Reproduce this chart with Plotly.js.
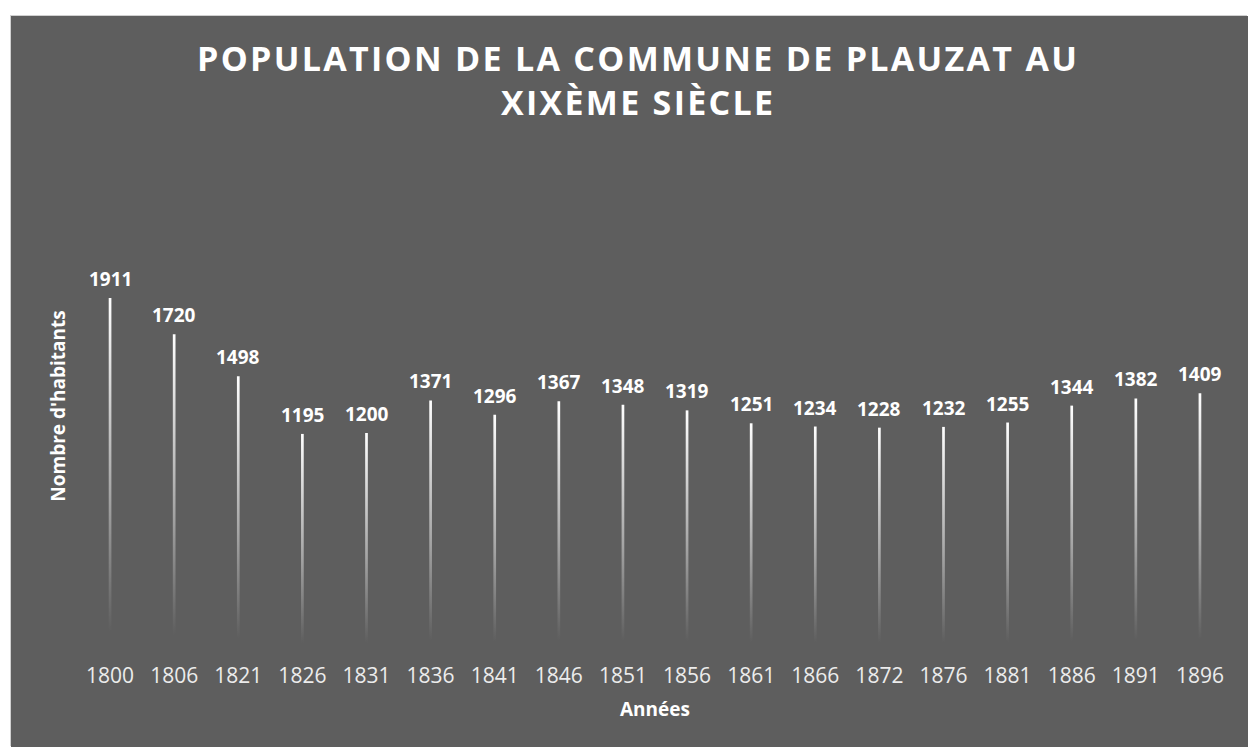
<!DOCTYPE html>
<html>
<head>
<meta charset="utf-8">
<script src="https://cdn.plot.ly/plotly-3.0.1.min.js"></script>
<style>
  html, body { margin: 0; padding: 0; background: #ffffff; }
  #chart { position: absolute; left: 10px; top: 15px; width: 1237px; height: 731px; border: 1px solid #d0d0d0; box-sizing: border-box; }
  .gtitle { letter-spacing: 2.3px; }
</style>
</head>
<body>
<div id="chart"></div>
<script>
const years = ["1800","1806","1821","1826","1831","1836","1841","1846","1851","1856","1861","1866","1872","1876","1881","1886","1891","1896"];
const population = [1911,1720,1498,1195,1200,1371,1296,1367,1348,1319,1251,1234,1228,1232,1255,1344,1382,1409];

const bg = '#5e5e5e';
const halfW = 0.021;
const traces = [];
years.forEach((yr, i) => {
  const v = population[i];
  traces.push({
    type: 'scatter',
    mode: 'lines',
    x: [i - halfW, i + halfW, i + halfW, i - halfW, i - halfW],
    y: [0, 0, v, v, 0],
    fill: 'toself',
    line: { width: 0, color: 'rgba(0,0,0,0)' },
    fillgradient: {
      type: 'vertical',
      colorscale: [[0, bg], [0.08, bg], [0.45, '#a4a4a4'], [1, '#ffffff']]
    },
    hoverinfo: 'skip',
    showlegend: false
  });
});

const labels = population.map((v, i) => ({
  x: i, y: v, xref: 'x', yref: 'y',
  text: String(v),
  showarrow: false,
  yanchor: 'middle', xanchor: 'center',
  yshift: 19,
  font: { family: 'Open Sans', size: 19, color: '#ffffff', weight: 'bold' }
}));

const layout = {
  width: 1237,
  height: 731,
  paper_bgcolor: bg,
  plot_bgcolor: bg,
  margin: { l: 67, r: 16, t: 135, b: 86 },
  title: {
    text: 'POPULATION DE LA COMMUNE DE PLAUZAT AU<br>XIXÈME SIÈCLE',
    font: { family: 'Open Sans', size: 34, color: '#ffffff', weight: 'bold' },
    x: 0.507, xanchor: 'center',
    yref: 'container', y: 0.925, yanchor: 'middle'
  },
  annotations: labels,
  xaxis: {
    range: [-0.5, 17.5],
    tickmode: 'array',
    tickvals: years.map((_, i) => i),
    ticktext: years,
    showgrid: false, zeroline: false, showline: false, ticks: '',
    tickfont: { family: 'Open Sans', size: 21, color: '#ececec' },
    ticklabelstandoff: 0,
    title: { text: 'Années', font: { family: 'Open Sans', size: 19, color: '#ffffff', weight: 'bold' }, standoff: 14 }
  },
  yaxis: {
    range: [0, 2684],
    showgrid: false, zeroline: false, showline: false, showticklabels: false, ticks: '',
    title: { text: "Nombre d'habitants", font: { family: 'Open Sans', size: 19, color: '#ffffff', weight: 'bold' }, standoff: 6 }
  }
};

Plotly.newPlot('chart', traces, layout, { displayModeBar: false, staticPlot: true });
</script>
</body>
</html>
